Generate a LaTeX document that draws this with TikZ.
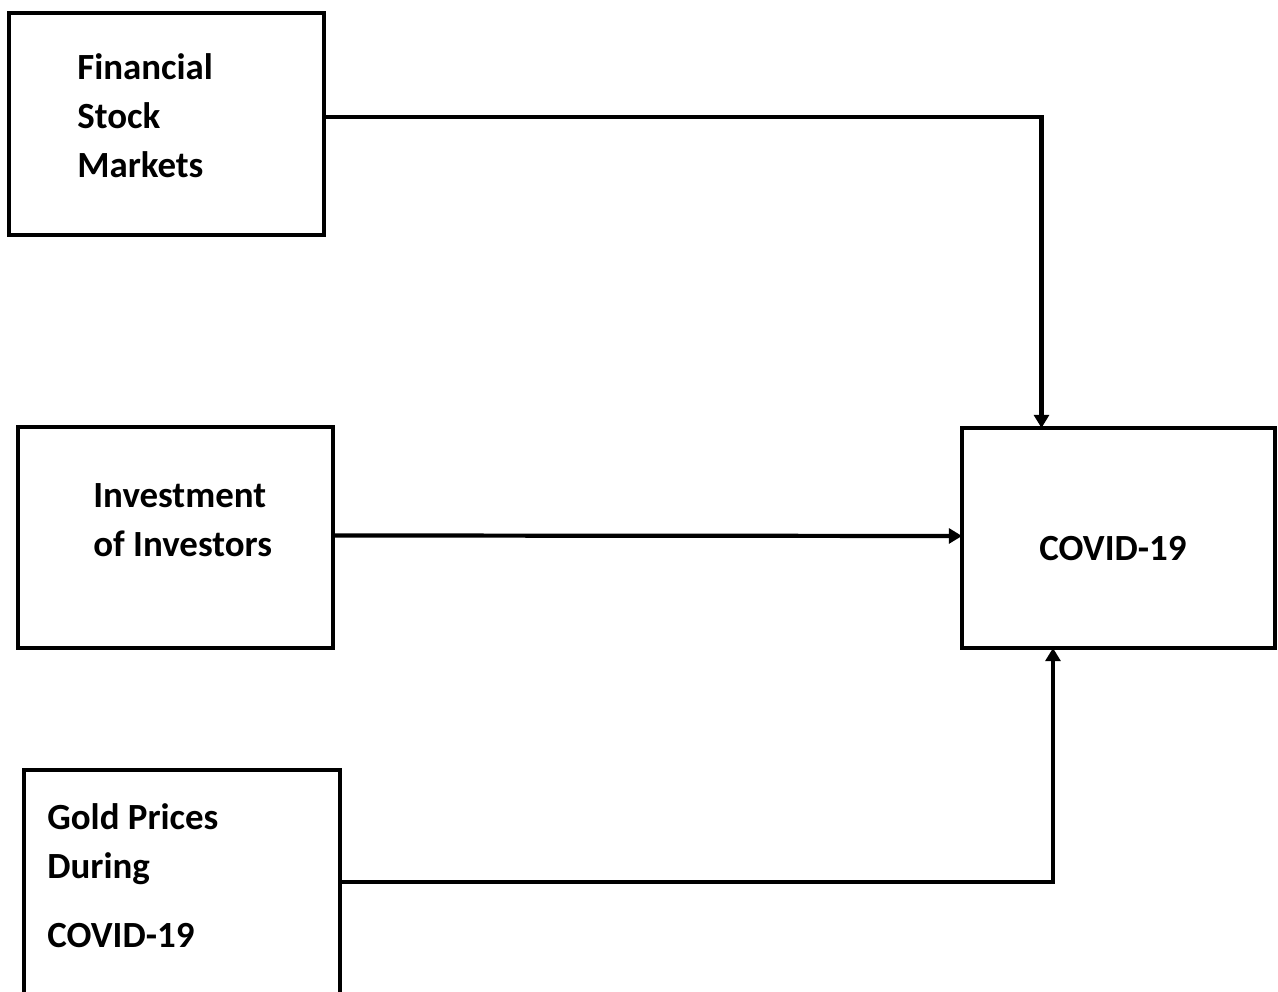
\documentclass[tikz,border=0pt]{standalone}
\usepackage{fontspec}
\setmainfont{Carlito}
\usetikzlibrary{positioning, calc, arrows.meta}

\begin{document}
\begin{tikzpicture}[
    x=0.02cm, y=-0.02cm,
    >={Triangle[width=8.5pt, length=7.5pt]},
    font=\fontsize{21}{27.8}\selectfont\bfseries,
    box/.style={
        draw,
        line width=2.3pt,
        outer sep=0pt,
        inner sep=0pt,
        anchor=north west,
        minimum width=#1
    },
    txt/.style={
        anchor=base west,
        align=left,
        inner sep=0pt
    },
    conn/.style={
        ->,
        line width=2.4pt
    }
]
\useasboundingbox (0,0) rectangle (1278,991);
\clip (0,0) rectangle (1278,991);

% Boxes
\node[box=6.3cm, minimum height=4.44cm] (FSM) at (9,13) {};
\node[box=6.3cm, minimum height=4.42cm] (IOI) at (18,427) {};
\node[box=6.32cm, minimum height=4.8cm] (GP) at (24,770) {};
\node[box=6.26cm, minimum height=4.4cm] (COV) at (962,428) {};

% Texts (anchored at the last line)
\node[txt] (FSMt) at (77,177) {Financial\\Stock\\Markets};
\node[txt] (IOIt) at (93,556) {Investment\\of Investors};
\node[txt] (GPt) at (47,947) {Gold Prices\\During\\[0.4cm]COVID-19};
\node[anchor=base, inner sep=0pt] (COVt) at (1113,560) {COVID-19};

% Edges
\draw[conn] ([yshift=0.14cm]FSM.east) -| ([xshift=-1.54cm]COV.north);
\draw[conn] ([yshift=0.04cm]IOI.east) -- ([yshift=0.04cm]COV.west);
\draw[conn] ([yshift=0.16cm]GP.east) -| ([xshift=-1.31cm]COV.south);

\end{tikzpicture}
\end{document}
